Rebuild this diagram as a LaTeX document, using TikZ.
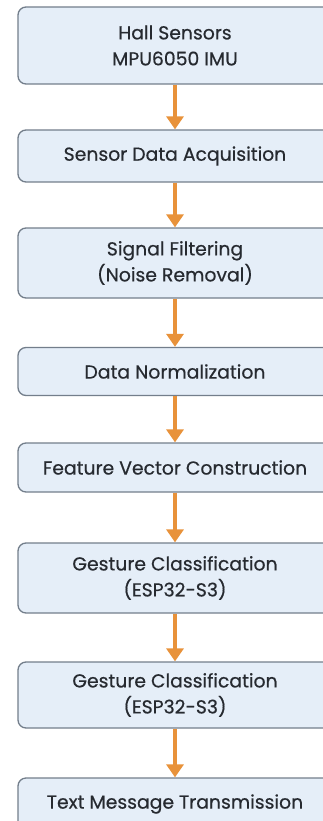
\documentclass[tikz,border=0pt]{standalone}
\usepackage{fontspec}
\newfontfamily\stagefont{Poppins}[FakeBold=0.5]
\usetikzlibrary{arrows.meta}
\definecolor{boxfill}{HTML}{E5EEF8}
\definecolor{boxline}{HTML}{737E8B}
\definecolor{flowarrow}{HTML}{E8923A}
\definecolor{boxtext}{HTML}{262A30}
\tikzset{
    stage/.style={draw=boxline, fill=boxfill, line width=1.3pt, rounded corners=8pt,
        minimum width=314pt, align=center, text=boxtext, font=\stagefont\fontsize{18.8}{26}\selectfont},
    flow/.style={draw=flowarrow, line width=4pt, -{Triangle[width=17pt,length=13pt]}}
}
\begin{document}
\begin{tikzpicture}[x=1pt, y=-1pt]
        \useasboundingbox (0,0) rectangle (323,821);

        \node[stage, minimum height=77pt](sensors) at (175, 45.5){Hall Sensors\\MPU6050 IMU};
        \node[stage, minimum height=52pt](acquire) at (175, 156){Sensor Data Acquisition};
        \node[stage, minimum height=70pt](filter) at (175, 263){Signal Filtering\\(Noise Removal)};
        \node[stage, minimum height=48pt](normal) at (175, 371.5){Data Normalization};
        \node[stage, minimum height=49pt](feature) at (175, 467.5){Feature Vector Construction};
        \node[stage, minimum height=70pt](classA) at (175, 578){Gesture Classification\\(ESP32-S3)};
        \node[stage, minimum height=66pt](classB) at (175, 695){Gesture Classification\\(ESP32-S3)};
        \node[stage, minimum height=52pt](transmit) at (175, 804){Text Message Transmission};

        \draw[flow] (sensors) -- (acquire);
        \draw[flow] (acquire) -- (filter);
        \draw[flow] (filter) -- (normal);
        \draw[flow] (normal) -- (feature);
        \draw[flow] (feature) -- (classA);
        \draw[flow] (classA) -- (classB);
        \draw[flow] (classB) -- (transmit);
    \end{tikzpicture}
\end{document}
